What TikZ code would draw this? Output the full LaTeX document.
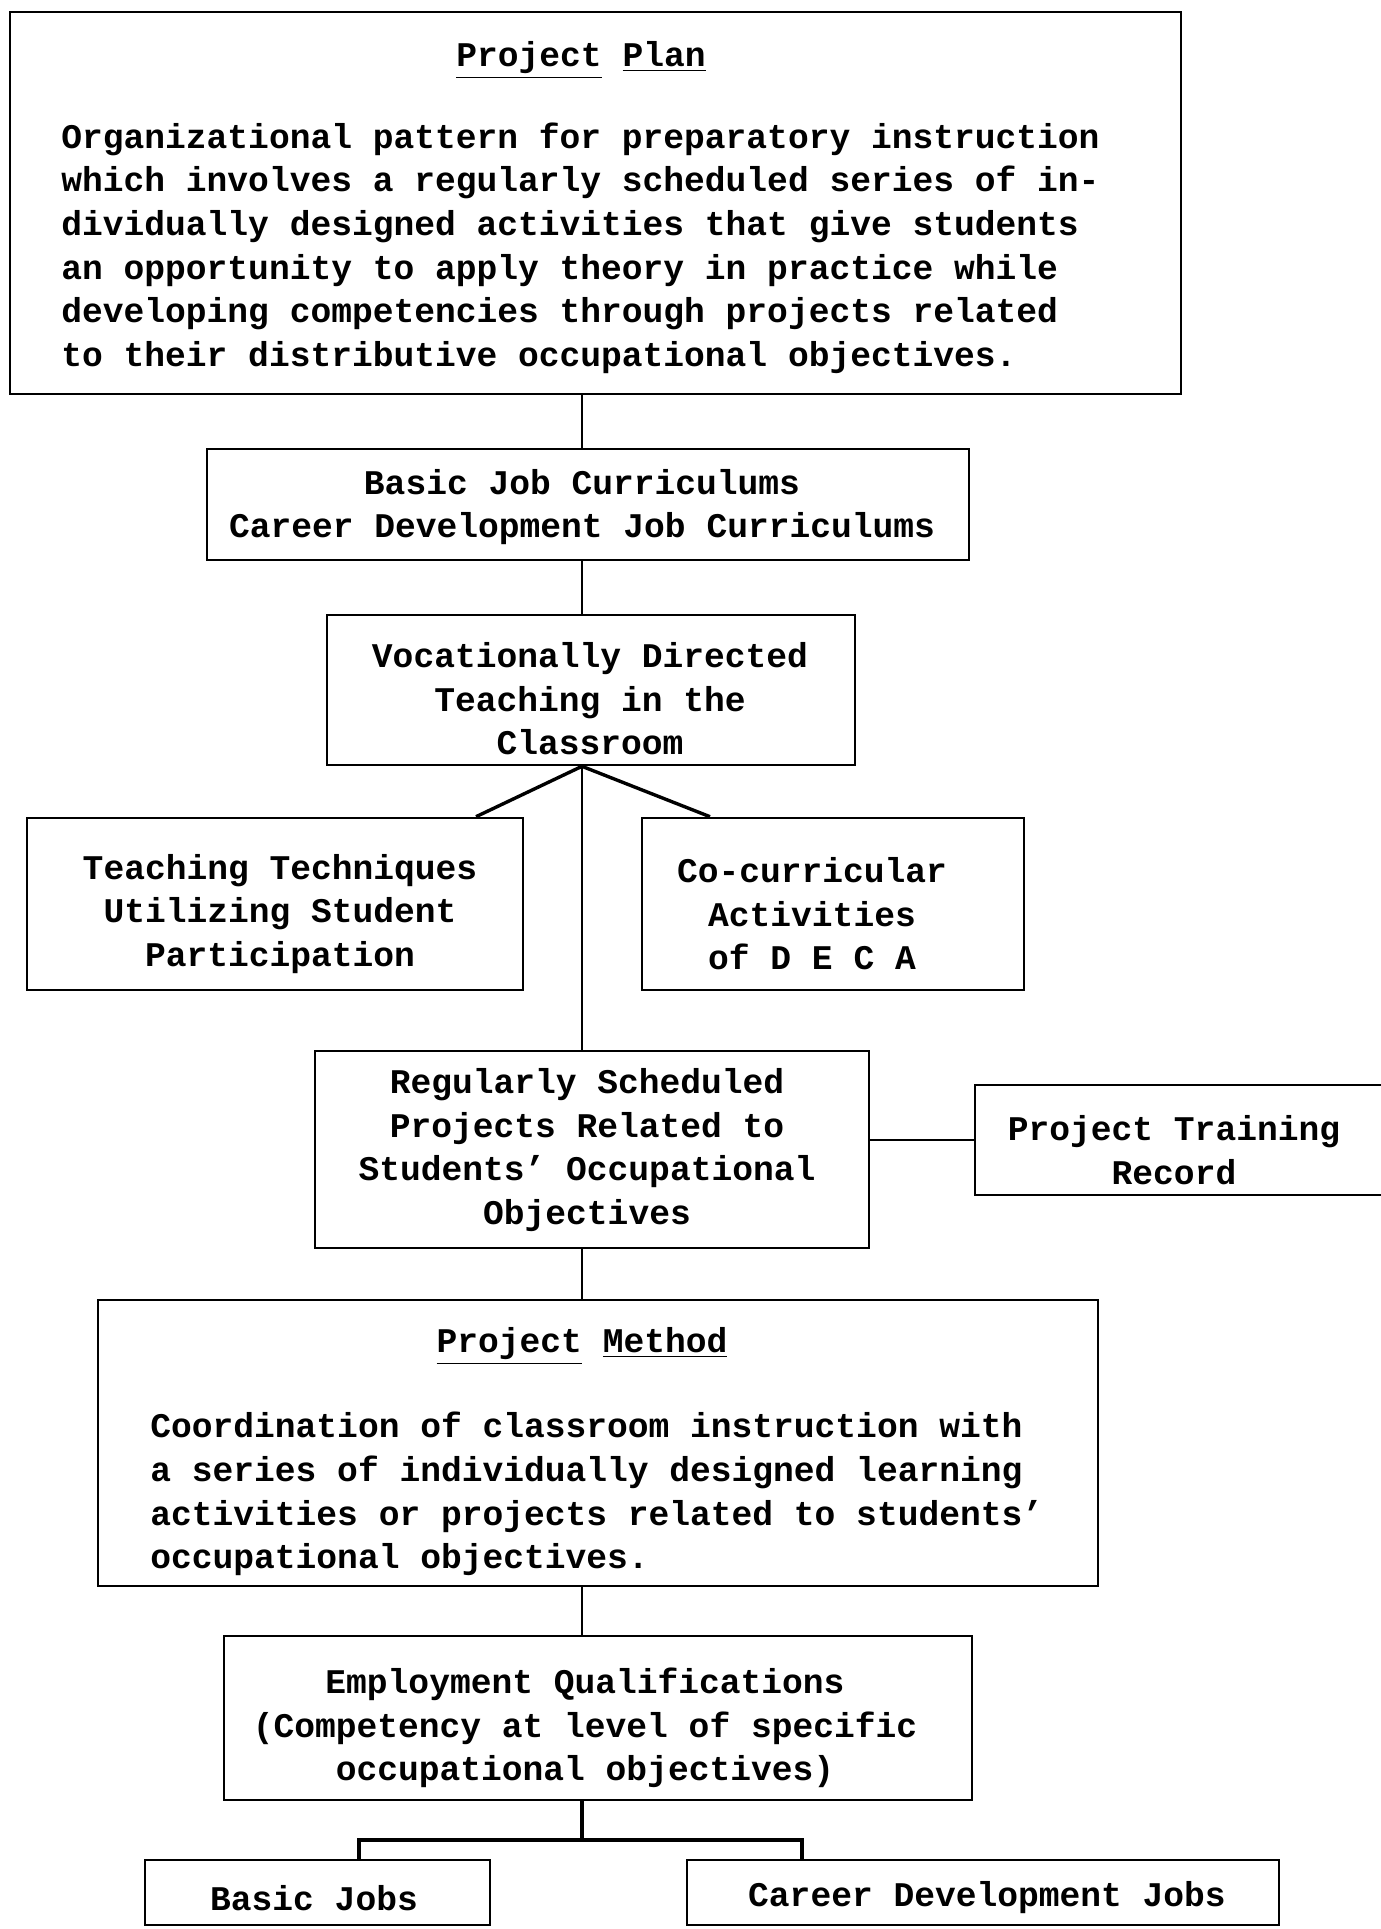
\documentclass[tikz,border=0pt]{standalone}
\usepackage{fontspec}
\setmainfont{Liberation Mono}
\usetikzlibrary{fit}
\newcommand{\tapos}{{\char"27}}
\begin{document}
\begin{tikzpicture}[x=0.5pt,y=-0.5pt,
  box/.style={draw=black, line width=1.3pt, inner sep=0pt},
  txt/.style={font=\fontsize{17.3}{21.8}\selectfont\bfseries, inner sep=0pt, align=center},
  link/.style={draw=black, line width=1.2pt},
  thinlink/.style={draw=black, line width=0.8pt},
  boldlink/.style={draw=black, line width=1.7pt}]
\useasboundingbox[fill=white] (0,0) rectangle (1381,1929);

% boxes
\node[box, fit={(10,12)(1181,394)}] (pp) {};
\node[box, fit={(207,449)(969,560)}] (bjc) {};
\node[box, fit={(327,615)(855,765)}] (vdt) {};
\node[box, fit={(27,818)(523,990)}] (tt) {};
\node[box, fit={(642,818)(1024,990)}] (cc) {};
\node[box, fit={(315,1051)(869,1248)}] (rs) {};
\node[box, fit={(975,1085)(1400,1195)}] (ptr) {};
\node[box, fit={(98,1300)(1098,1586)}] (pm) {};
\node[box, fit={(224,1636)(972,1800)}] (eq) {};
\node[box, fit={(145,1860)(490,1925)}] (bj) {};
\node[box, fit={(687,1860)(1279,1925)}] (cdj) {};

% texts
\node[txt] (pptitle) at (581,60) {\underline{Project}~\underline{Plan}};
\node[txt, align=left, anchor=west] (ppbody) at (61,248) {Organizational pattern for preparatory instruction\\
which involves a regularly scheduled series of in-\\
dividually designed activities that give students\\
an opportunity to apply theory in practice while\\
developing competencies through projects related\\
to their distributive occupational objectives.};
\node[txt] (bjct) at (582,507) {Basic Job Curriculums\\Career Development Job Curriculums};
\node[txt] (vdtt) at (590,699) {Vocationally Directed\\Teaching in the\\Classroom};
\node[txt] (ttt) at (280,914) {Teaching Techniques\\Utilizing Student\\Participation};
\node[txt] (cct) at (812,914) {Co-curricular\\Activities\\of D E C A};
\node[txt] (rst) at (587,1150) {Regularly Scheduled\\Projects Related to\\Students\tapos{} Occupational\\Objectives};
\node[txt] (ptrt) at (1174,1150) {Project Training\\Record};
\node[txt] (pmtitle) at (582,1346) {\underline{Project}~\underline{Method}};
\node[txt, align=left, anchor=west] (pmbody) at (150,1494) {Coordination of classroom instruction with\\
a series of individually designed learning\\
activities or projects related to students\tapos\\
occupational objectives.};
\node[txt] (eqt) at (585,1728) {Employment Qualifications\\(Competency at level of specific\\occupational objectives)};
\node[txt] (bjt) at (314,1898) {Basic Jobs};
\node[txt] (cdjt) at (987,1898) {Career Development Jobs};

% connector coordinates
\coordinate (spine) at (582,0);
\coordinate (tl) at (476,0);
\coordinate (tr) at (710,0);
\coordinate (lk) at (0,1140);
\coordinate (bl) at (359,1840);
\coordinate (br) at (802,1840);

% connectors
\draw[link] (pp.south -| spine) -- (bjc.north -| spine);
\draw[link] (bjc.south -| spine) -- (vdt.north -| spine);
\draw[thinlink] (vdt.south -| spine) -- (rs.north -| spine);
\draw[boldlink] (vdt.south -| spine) -- (tt.north -| tl);
\draw[boldlink] (vdt.south -| spine) -- (cc.north -| tr);
\draw[link] (rs.east |- lk) -- (ptr.west |- lk);
\draw[thinlink] (rs.south -| spine) -- (pm.north -| spine);
\draw[thinlink] (pm.south -| spine) -- (eq.north -| spine);
\draw[boldlink] (eq.south -| spine) -- (bl -| spine);
\draw[boldlink] (bj.north -| bl) -- (bl) -- (br) -- (cdj.north -| br);
\end{tikzpicture}
\end{document}
